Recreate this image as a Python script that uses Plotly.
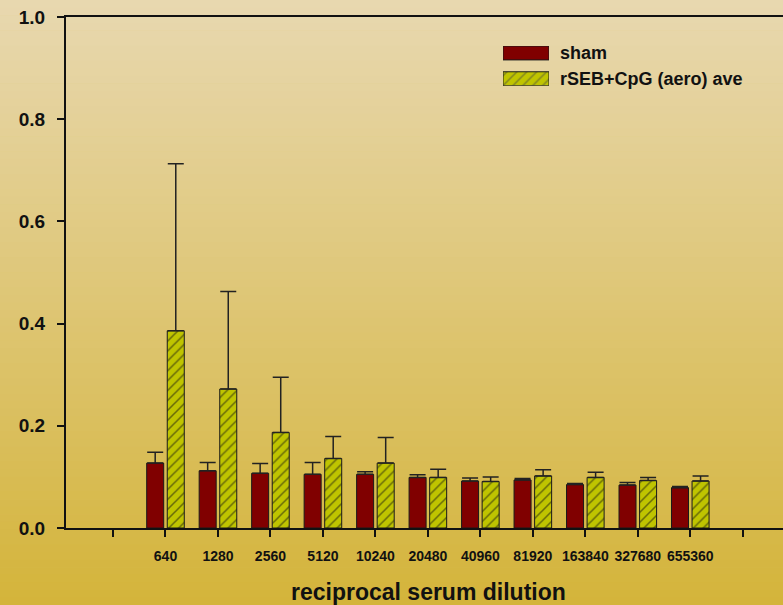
import plotly.graph_objects as go

# ---- data ----
dilutions = ["640", "1280", "2560", "5120", "10240", "20480", "40960",
             "81920", "163840", "327680", "655360"]
sham = [0.127, 0.112, 0.107, 0.105, 0.105, 0.099, 0.092, 0.094, 0.085, 0.084, 0.079]
sham_err = [0.021, 0.016, 0.019, 0.023, 0.005, 0.005, 0.006, 0.003, 0.002, 0.005, 0.002]
aero = [0.386, 0.272, 0.187, 0.136, 0.127, 0.099, 0.091, 0.102, 0.099, 0.093, 0.092]
aero_err = [0.327, 0.191, 0.108, 0.043, 0.050, 0.016, 0.009, 0.012, 0.010, 0.006, 0.010]
series_names = ["sham", "rSEB+CpG (aero) ave"]
y_ticks = [0.0, 0.2, 0.4, 0.6, 0.8, 1.0]

# ---- styling ----
W, H = 783, 605
L, R, T, B = 66, 0, 17, 77
PW, PH = W - L - R, H - T - B
RED = "#800000"
HATCH = "#BFC400"
EDGE = "#1a1a1a"
FONT = "Liberation Sans, Arial, sans-serif"

positions = list(range(1, len(dilutions) + 1))
tickvals = list(range(0, len(dilutions) + 2))
ticktext = [""] + dilutions + [""]

bw = 0.324
fig = go.Figure()
fig.add_trace(go.Bar(
    x=positions, y=sham, name=series_names[0], width=bw, offset=-0.358,
    marker=dict(color=RED, line=dict(color=EDGE, width=1)),
    error_y=dict(type="data", array=sham_err, arrayminus=[0] * len(sham),
                 symmetric=False, color="#222222", thickness=1.5, width=8),
    showlegend=False, hoverinfo="x+y"))
fig.add_trace(go.Bar(
    x=positions, y=aero, name=series_names[1], width=bw, offset=0.034,
    marker=dict(color=HATCH, line=dict(color=EDGE, width=1),
                pattern=dict(shape="/", fgcolor="#111111", size=7, solidity=0.22)),
    error_y=dict(type="data", array=aero_err, arrayminus=[0] * len(aero),
                 symmetric=False, color="#222222", thickness=1.5, width=8),
    showlegend=False, hoverinfo="x+y"))

# ---- legend swatches (drawn in a small auxiliary axis) ----
fig.add_trace(go.Bar(
    x=[1, 1], y=[0, 1], orientation="h", width=0.54, base=0,
    marker=dict(color=[HATCH, RED], line=dict(color=EDGE, width=1),
                pattern=dict(shape=["/", ""], fgcolor="#111111", size=7, solidity=0.22)),
    xaxis="x2", yaxis="y2", showlegend=False, hoverinfo="skip"))

def px_x(x):
    return (x - L) / PW

def px_y(y):
    return (H - B - y) / PH

# ---- gradient background ----
top_c = (232, 216, 176)
bot_c = (212, 180, 58)
n = 80
shapes = []
for i in range(n):
    t0 = i / n
    t1 = (i + 1) / n
    tm = (t0 + t1) / 2
    c = tuple(round(top_c[k] + (bot_c[k] - top_c[k]) * tm) for k in range(3))
    y0 = t0 * H
    y1 = t1 * H + 0.6
    shapes.append(dict(type="rect", xref="paper", yref="paper", layer="below",
                       x0=px_x(0), x1=px_x(W), y0=px_y(y1), y1=px_y(y0),
                       fillcolor="rgb(%d,%d,%d)" % c, line=dict(width=0)))

annotations = [
    dict(text="reciprocal serum dilution", xref="paper", yref="paper",
         x=px_x(428), y=px_y(592), showarrow=False, xanchor="center", yanchor="middle",
         font=dict(family=FONT, size=23, color="#111111", weight="bold")),
    dict(text=series_names[0], xref="paper", yref="paper",
         x=px_x(558), y=px_y(53), showarrow=False, xanchor="left", yanchor="middle",
         font=dict(family=FONT, size=18, color="#111111", weight="bold")),
    dict(text=series_names[1], xref="paper", yref="paper",
         x=px_x(558), y=px_y(79), showarrow=False, xanchor="left", yanchor="middle",
         font=dict(family=FONT, size=18, color="#111111", weight="bold")),
]

slot = 52.48
x0_idx = (L - 113) / slot
x1_idx = (W - R - 113) / slot

fig.update_layout(
    width=W, height=H,
    margin=dict(l=L, r=R, t=T, b=B, pad=0),
    paper_bgcolor="rgb(222,198,118)",
    plot_bgcolor="rgba(0,0,0,0)",
    shapes=shapes,
    annotations=annotations,
    barmode="overlay",
    font=dict(family=FONT, color="#111111"),
    xaxis=dict(range=[x0_idx, x1_idx], tickmode="array", tickvals=tickvals,
               ticktext=ticktext, ticks="outside", ticklen=7, tickwidth=1.5,
               tickcolor="#111111", showline=True, linecolor="#111111", linewidth=2,
               mirror=True, showgrid=False, zeroline=False, ticklabelstandoff=7,
               tickfont=dict(family=FONT, size=14, color="#111111", weight="bold")),
    yaxis=dict(range=[0, 1], tickmode="array", tickvals=y_ticks,
               ticktext=["%.1f" % v for v in y_ticks], ticks="outside", ticklen=7,
               tickwidth=1.5, tickcolor="#111111", showline=True, linecolor="#111111",
               linewidth=2, showgrid=False, zeroline=False, ticklabelstandoff=8,
               tickfont=dict(family=FONT, size=19, color="#111111", weight="bold")),
    xaxis2=dict(domain=[px_x(503), px_x(549)], range=[0, 1], visible=False,
                anchor="y2", fixedrange=True),
    yaxis2=dict(domain=[px_y(85.7), px_y(46)], range=[-0.27, 1.27], visible=False,
                anchor="x2", fixedrange=True),
)

fig.write_html(
    "out.html",
    config={"displayModeBar": False},
    post_script="document.body.style.margin='0';document.body.style.overflow='hidden';",
)
